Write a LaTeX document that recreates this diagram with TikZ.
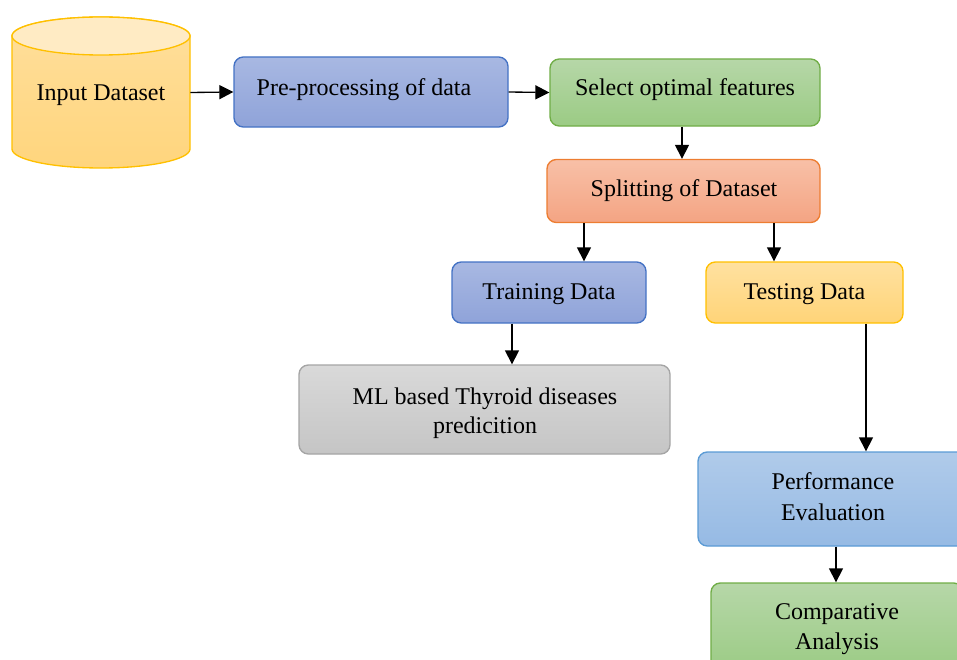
\documentclass[tikz,border=0pt]{standalone}
\usepackage{fontspec}
\setmainfont{Liberation Serif}
\usetikzlibrary{arrows.meta}
\definecolor{cylb}{HTML}{FFC000}
\definecolor{cyltop}{HTML}{FFEBC4}
\definecolor{cylA}{HTML}{FFDF9C}
\definecolor{cylB}{HTML}{FFD57D}
\definecolor{bluA}{HTML}{A8B8E2}
\definecolor{bluB}{HTML}{8FA3D9}
\definecolor{bluD}{HTML}{4472C4}
\definecolor{grnA}{HTML}{B6D7A8}
\definecolor{grnB}{HTML}{9BCB84}
\definecolor{grnD}{HTML}{70AD47}
\definecolor{orgA}{HTML}{F8C0A7}
\definecolor{orgB}{HTML}{F4A483}
\definecolor{orgD}{HTML}{ED7D31}
\definecolor{ylwA}{HTML}{FFE1A0}
\definecolor{ylwB}{HTML}{FFD478}
\definecolor{gryA}{HTML}{D9D9D9}
\definecolor{gryB}{HTML}{C5C5C5}
\definecolor{gryD}{HTML}{A5A5A5}
\definecolor{lbA}{HTML}{B0CBEA}
\definecolor{lbB}{HTML}{96BAE4}
\definecolor{lbD}{HTML}{5B9BD5}
\begin{document}
\begin{tikzpicture}[x=0.75pt,y=-0.75pt,
  box/.style={draw, line width=1pt, rounded corners=7pt, inner sep=0pt},
  bluebox/.style={box, top color=bluA, bottom color=bluB, draw=bluD},
  greenbox/.style={box, top color=grnA, bottom color=grnB, draw=grnD},
  txt/.style={font=\fontsize{18}{22.5}\selectfont, inner sep=0pt, align=center},
  arr/.style={-{Triangle[width=10.5pt,length=10.5pt]}, line width=1pt}]
\useasboundingbox (0,0) rectangle (957,660);
\clip (0,0) rectangle (957,660);
% cylinder
\node[inner sep=0pt, minimum width=133.5pt, minimum height=113.25pt] (in) at (101,92.5) {};
\path[draw=cylb, line width=1pt, top color=cylA, bottom color=cylB]
  (12,36) -- (12,149) arc[start angle=180, end angle=0, x radius=89, y radius=19]
  -- (190,36) arc[start angle=0, end angle=-180, x radius=89, y radius=19] -- cycle;
\draw[draw=cylb, line width=1pt, fill=cyltop] (101,36) ellipse[x radius=89, y radius=19];
\node[txt, anchor=base] (in-t) at (101,100) {Input Dataset};
% boxes
\node[bluebox, minimum width=205.5pt, minimum height=52.5pt] (pre) at (371,92) {};
\node[greenbox, minimum width=202.5pt, minimum height=50.25pt] (sel) at (685,92.5) {};
\node[box, top color=orgA, bottom color=orgB, draw=orgD, minimum width=204.75pt, minimum height=47.25pt] (split) at (683.5,191) {};
\node[bluebox, minimum width=145.5pt, minimum height=45.75pt] (train) at (549,292.5) {};
\node[box, top color=ylwA, bottom color=ylwB, draw=cylb, minimum width=147.75pt, minimum height=45.75pt] (test) at (804.5,292.5) {};
\node[box, top color=gryA, bottom color=gryB, draw=gryD, minimum width=278.25pt, minimum height=66.75pt] (ml) at (484.5,409.5) {};
\node[box, top color=lbA, bottom color=lbB, draw=lbD, minimum width=202.5pt, minimum height=70.5pt] (perf) at (833,499) {};
\node[greenbox, minimum width=189pt, minimum height=67.5pt] (comp) at (837,628) {};
% texts
\node[txt, anchor=base] (pre-t) at (364,95) {Pre-processing of data};
\node[txt, anchor=base] (sel-t) at (685,96) {Select optimal features};
\node[txt, anchor=base] (split-t) at (684,196) {Splitting of Dataset};
\node[txt, anchor=base] (train-t) at (549,299.5) {Training Data};
\node[txt, anchor=base] (test-t) at (804.5,299.5) {Testing Data};
\node[txt, font=\fontsize{18}{21.75}\selectfont] (ml-t) at (485,413) {ML based Thyroid diseases\\predicition};
\node[txt, font=\fontsize{18}{23.25}\selectfont] (perf-t) at (833,497) {Performance\\Evaluation};
\node[txt, font=\fontsize{18}{22.5}\selectfont] (comp-t) at (837,629.5) {Comparative\\Analysis};
% connectors
\coordinate (xa) at (682,0);
\coordinate (xb) at (584,0);
\coordinate (xc) at (774,0);
\coordinate (xd) at (512,0);
\coordinate (xe) at (866,0);
\coordinate (xf) at (836,0);
\draw[arr] (in.east) -- (pre.west);
\draw[arr] (pre.east) -- (sel.west);
\draw[arr] (sel.south -| xa) -- (split.north -| xa);
\draw[arr] (split.south -| xb) -- (train.north -| xb);
\draw[arr] (split.south -| xc) -- (test.north -| xc);
\draw[arr] (train.south -| xd) -- (ml.north -| xd);
\draw[arr] (test.south -| xe) -- (perf.north -| xe);
\draw[arr] (perf.south -| xf) -- (comp.north -| xf);
\end{tikzpicture}
\end{document}
